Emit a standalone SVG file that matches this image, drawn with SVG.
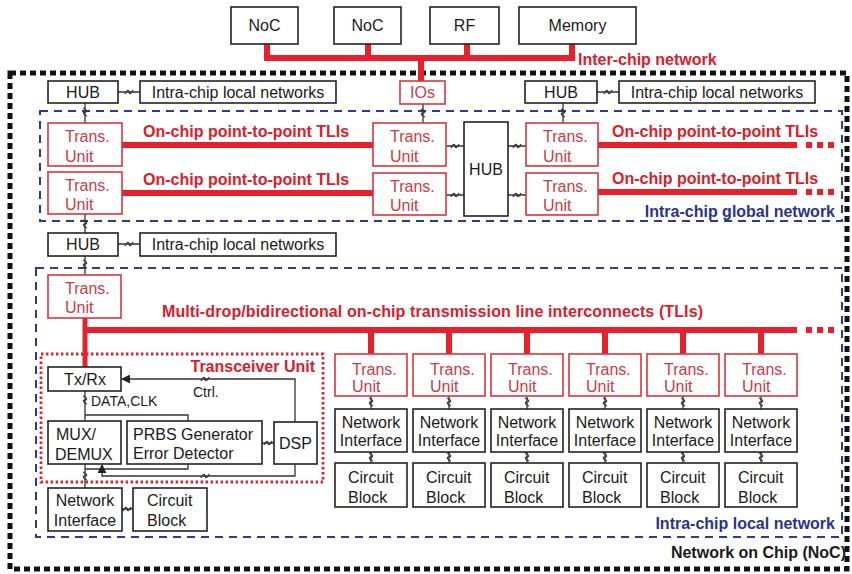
<svg xmlns="http://www.w3.org/2000/svg" width="852" height="574" viewBox="0 0 852 574">
<defs>
<style>
.bx{fill:#fff;stroke:#222;stroke-width:1.6}
.rb{fill:#fff;stroke:#d8353f;stroke-width:1.6}
.t{font-family:"Liberation Sans",Arial,sans-serif;font-size:16px;fill:#1a1a1a}
.s{font-size:14px}
.tr{fill:#cc3a45}
.c{text-anchor:middle}
.e{text-anchor:end}
.b{font-weight:bold}
.rt{fill:#d8202b}
.bt{fill:#2b3388}
.rl{stroke:#e8202c;stroke-width:6;fill:none}
.rv{stroke:#e8202c;stroke-width:5;fill:none}
.rd{stroke:#e8202c;stroke-width:6;stroke-dasharray:6 5;fill:none}
.cn{stroke:#333;stroke-width:1.3;fill:none}
.bd{fill:none;stroke:#2e3a8e;stroke-width:2;stroke-dasharray:8 6}
.od{fill:none;stroke:#111;stroke-width:5;stroke-dasharray:6 4}
.td{fill:none;stroke:#e0202c;stroke-width:2.8;stroke-dasharray:2.4 2.6}
</style>
<path id="sq" class="cn" d="M-4,2 C-2,-3 0,-2 0,0 C0,2 2,3 4,-2"/>
<marker id="ah" viewBox="0 0 10 10" refX="9" refY="5" markerWidth="9" markerHeight="9" markerUnits="userSpaceOnUse" orient="auto">
<path d="M0,0 L10,5 L0,10 z" fill="#222"/>
</marker>
</defs>
<rect x="0" y="0" width="852" height="574" fill="#fff"/>

<g id="borders">
<rect class="od" x="10" y="73" width="837" height="496"/>
<rect class="bd" x="40" y="111" width="802" height="110"/>
<rect class="bd" x="36" y="268" width="806" height="269"/>
<rect class="td" x="41" y="354" width="282" height="128"/>
</g>

<g id="connectors">
<path class="rl" d="M267,44 V58 M368,44 V58 M467,44 V58 M572,44 V58 M264,58 H575 M421,58 V81"/>
<path class="rl" d="M122,145 H373 M122,193 H373 M598,145 H797 M598,192 H797"/>
<path class="rd" d="M806,145 H837 M806,192 H837"/>
<path class="rv" d="M85,318 V367"/>
<path class="rl" d="M83,330 H797 M371,330 V354 M449,330 V354 M527,330 V354 M605,330 V354 M683,330 V354 M761,330 V354"/>
<path class="rd" d="M806,330 H837"/>
<path class="cn" d="M118,92 H140 M597,92 H619 M118,244 H140 M85,103 V123 M85,214 V233 M85,256 V275 M423,104 V123 M563,103 V123 M446,146 H464 M446,195 H464 M508,146 H526 M508,195 H526"/>
<use href="#sq" x="129" y="92"/>
<use href="#sq" x="608" y="92"/>
<use href="#sq" x="129" y="244"/>
<use href="#sq" transform="translate(85,112) rotate(90)"/>
<use href="#sq" transform="translate(85,224) rotate(90)"/>
<use href="#sq" transform="translate(85,264) rotate(90)"/>
<use href="#sq" transform="translate(423,113) rotate(90)"/>
<use href="#sq" transform="translate(563,113) rotate(90)"/>
<use href="#sq" x="455" y="146"/>
<use href="#sq" x="455" y="195"/>
<use href="#sq" x="517" y="146"/>
<use href="#sq" x="517" y="195"/>
<path class="cn" d="M371,396 V409 M371,452 V463 M449,396 V409 M449,452 V463 M527,396 V409 M527,452 V463 M605,396 V409 M605,452 V463 M683,396 V409 M683,452 V463 M761,396 V409 M761,452 V463"/>
<use href="#sq" transform="translate(371,402) rotate(90)"/>
<use href="#sq" transform="translate(371,457) rotate(90)"/>
<use href="#sq" transform="translate(449,402) rotate(90)"/>
<use href="#sq" transform="translate(449,457) rotate(90)"/>
<use href="#sq" transform="translate(527,402) rotate(90)"/>
<use href="#sq" transform="translate(527,457) rotate(90)"/>
<use href="#sq" transform="translate(605,402) rotate(90)"/>
<use href="#sq" transform="translate(605,457) rotate(90)"/>
<use href="#sq" transform="translate(683,402) rotate(90)"/>
<use href="#sq" transform="translate(683,457) rotate(90)"/>
<use href="#sq" transform="translate(761,402) rotate(90)"/>
<use href="#sq" transform="translate(761,457) rotate(90)"/>
<path class="cn" d="M85,391 V421 M85,415 H188 V421 M85,464 V488 M85,469 H188 V464 M262,443 H274 M122,509 H133"/>
<path class="cn" d="M295,422 V379 H122" marker-end="url(#ah)"/>
<path class="cn" d="M295,464 V476 H102 V465" marker-end="url(#ah)"/>
<use href="#sq" transform="translate(85,400) rotate(90)"/>
<use href="#sq" transform="translate(85,476) rotate(90)"/>
<use href="#sq" x="205" y="379"/>
<use href="#sq" x="205" y="476"/>
<use href="#sq" x="268" y="443"/>
<use href="#sq" x="127" y="509"/>
</g>

<g id="noc1"><rect class="bx" x="231" y="7" width="67" height="37"/><text class="t c" x="264.5" y="31">NoC</text></g>
<g id="noc2"><rect class="bx" x="334" y="7" width="67" height="37"/><text class="t c" x="367.5" y="31">NoC</text></g>
<g id="rf"><rect class="bx" x="430" y="7" width="69" height="37"/><text class="t c" x="464.5" y="31">RF</text></g>
<g id="memory"><rect class="bx" x="519" y="7" width="117" height="37"/><text class="t c" x="577.5" y="31">Memory</text></g>

<g id="hub1"><rect class="bx" x="48" y="81" width="70" height="22"/><text class="t c" x="83" y="98">HUB</text></g>
<g id="local1"><rect class="bx" x="140" y="81" width="196" height="22"/><text class="t c" x="238" y="98">Intra-chip local networks</text></g>
<g id="ios"><rect class="rb" x="400" y="81" width="45" height="23"/><text class="t c tr" x="422.5" y="98">IOs</text></g>
<g id="hub2"><rect class="bx" x="525" y="81" width="72" height="22"/><text class="t c" x="561" y="98">HUB</text></g>
<g id="local2"><rect class="bx" x="619" y="81" width="196" height="22"/><text class="t c" x="717" y="98">Intra-chip local networks</text></g>

<g id="tuL1"><rect class="rb" x="48" y="123" width="74" height="43"/><text class="t tr" x="65" y="142">Trans.</text><text class="t tr" x="65" y="162">Unit</text></g>
<g id="tuL2"><rect class="rb" x="48" y="172" width="74" height="42"/><text class="t tr" x="65" y="191">Trans.</text><text class="t tr" x="65" y="210">Unit</text></g>
<g id="tuM1"><rect class="rb" x="373" y="123" width="73" height="43"/><text class="t tr" x="390" y="142">Trans.</text><text class="t tr" x="390" y="162">Unit</text></g>
<g id="tuM2"><rect class="rb" x="373" y="173" width="73" height="42"/><text class="t tr" x="390" y="192">Trans.</text><text class="t tr" x="390" y="211">Unit</text></g>
<g id="hubM"><rect class="bx" x="464" y="122" width="44" height="94"/><text class="t c" x="486" y="175">HUB</text></g>
<g id="tuR1"><rect class="rb" x="526" y="123" width="72" height="43"/><text class="t tr" x="543" y="142">Trans.</text><text class="t tr" x="543" y="162">Unit</text></g>
<g id="tuR2"><rect class="rb" x="526" y="173" width="72" height="42"/><text class="t tr" x="543" y="192">Trans.</text><text class="t tr" x="543" y="211">Unit</text></g>

<g id="hub3"><rect class="bx" x="48" y="233" width="70" height="23"/><text class="t c" x="83" y="250">HUB</text></g>
<g id="local3"><rect class="bx" x="140" y="233" width="196" height="23"/><text class="t c" x="238" y="250">Intra-chip local networks</text></g>
<g id="tuLoc"><rect class="rb" x="48" y="275" width="73" height="43"/><text class="t tr" x="65" y="294">Trans.</text><text class="t tr" x="65" y="313">Unit</text></g>

<g id="txrx"><rect class="bx" x="48" y="367" width="73" height="24"/><text class="t c" x="85" y="385">Tx/Rx</text></g>
<g id="mux"><rect class="bx" x="48" y="421" width="73" height="43"/><text class="t" x="56" y="440">MUX/</text><text class="t" x="55" y="460">DEMUX</text></g>
<g id="prbs"><rect class="bx" x="127" y="421" width="135" height="43"/><text class="t" x="133" y="440">PRBS Generator</text><text class="t" x="133" y="459">Error Detector</text></g>
<g id="dsp"><rect class="bx" x="274" y="422" width="43" height="42"/><text class="t c" x="295.5" y="449">DSP</text></g>
<g id="niL"><rect class="bx" x="48" y="488" width="74" height="43"/><text class="t c" x="85" y="506">Network</text><text class="t c" x="85" y="526">Interface</text></g>
<g id="cbL"><rect class="bx" x="133" y="488" width="74" height="43"/><text class="t" x="147" y="506">Circuit</text><text class="t" x="147" y="526">Block</text></g>

<g id="tu1"><rect class="rb" x="335" y="354" width="72" height="42"/><text class="t tr" x="352" y="375">Trans.</text><text class="t tr" x="352" y="392">Unit</text></g>
<g id="tu2"><rect class="rb" x="413" y="354" width="72" height="42"/><text class="t tr" x="430" y="375">Trans.</text><text class="t tr" x="430" y="392">Unit</text></g>
<g id="tu3"><rect class="rb" x="491" y="354" width="72" height="42"/><text class="t tr" x="508" y="375">Trans.</text><text class="t tr" x="508" y="392">Unit</text></g>
<g id="tu4"><rect class="rb" x="569" y="354" width="72" height="42"/><text class="t tr" x="586" y="375">Trans.</text><text class="t tr" x="586" y="392">Unit</text></g>
<g id="tu5"><rect class="rb" x="647" y="354" width="72" height="42"/><text class="t tr" x="664" y="375">Trans.</text><text class="t tr" x="664" y="392">Unit</text></g>
<g id="tu6"><rect class="rb" x="725" y="354" width="72" height="42"/><text class="t tr" x="742" y="375">Trans.</text><text class="t tr" x="742" y="392">Unit</text></g>

<g id="ni1"><rect class="bx" x="335" y="409" width="72" height="43"/><text class="t c" x="371" y="428">Network</text><text class="t c" x="371" y="446">Interface</text></g>
<g id="ni2"><rect class="bx" x="413" y="409" width="72" height="43"/><text class="t c" x="449" y="428">Network</text><text class="t c" x="449" y="446">Interface</text></g>
<g id="ni3"><rect class="bx" x="491" y="409" width="72" height="43"/><text class="t c" x="527" y="428">Network</text><text class="t c" x="527" y="446">Interface</text></g>
<g id="ni4"><rect class="bx" x="569" y="409" width="72" height="43"/><text class="t c" x="605" y="428">Network</text><text class="t c" x="605" y="446">Interface</text></g>
<g id="ni5"><rect class="bx" x="647" y="409" width="72" height="43"/><text class="t c" x="683" y="428">Network</text><text class="t c" x="683" y="446">Interface</text></g>
<g id="ni6"><rect class="bx" x="725" y="409" width="72" height="43"/><text class="t c" x="761" y="428">Network</text><text class="t c" x="761" y="446">Interface</text></g>

<g id="cb1"><rect class="bx" x="335" y="463" width="72" height="44"/><text class="t" x="348" y="483">Circuit</text><text class="t" x="348" y="503">Block</text></g>
<g id="cb2"><rect class="bx" x="413" y="463" width="72" height="44"/><text class="t" x="426" y="483">Circuit</text><text class="t" x="426" y="503">Block</text></g>
<g id="cb3"><rect class="bx" x="491" y="463" width="72" height="44"/><text class="t" x="504" y="483">Circuit</text><text class="t" x="504" y="503">Block</text></g>
<g id="cb4"><rect class="bx" x="569" y="463" width="72" height="44"/><text class="t" x="582" y="483">Circuit</text><text class="t" x="582" y="503">Block</text></g>
<g id="cb5"><rect class="bx" x="647" y="463" width="72" height="44"/><text class="t" x="660" y="483">Circuit</text><text class="t" x="660" y="503">Block</text></g>
<g id="cb6"><rect class="bx" x="725" y="463" width="72" height="44"/><text class="t" x="738" y="483">Circuit</text><text class="t" x="738" y="503">Block</text></g>

<g id="labels">
<text class="t b rt" x="578" y="65">Inter-chip network</text>
<text class="t b rt" x="143" y="137">On-chip point-to-point TLIs</text>
<text class="t b rt" x="143" y="185">On-chip point-to-point TLIs</text>
<text class="t b rt" x="612" y="137">On-chip point-to-point TLIs</text>
<text class="t b rt" x="612" y="184">On-chip point-to-point TLIs</text>
<text class="t b bt e" x="835" y="217">Intra-chip global network</text>
<text class="t b rt" x="162" y="317" textLength="541">Multi-drop/bidirectional on-chip transmission line interconnects (TLIs)</text>
<text class="t b rt e" x="315" y="372">Transceiver Unit</text>
<text class="t s" x="91" y="406">DATA,CLK</text>
<text class="t s" x="193" y="397">Ctrl.</text>
<text class="t b bt e" x="835" y="529">Intra-chip local network</text>
<text class="t b e" x="846" y="558">Network on Chip (NoC)</text>
</g>
</svg>
